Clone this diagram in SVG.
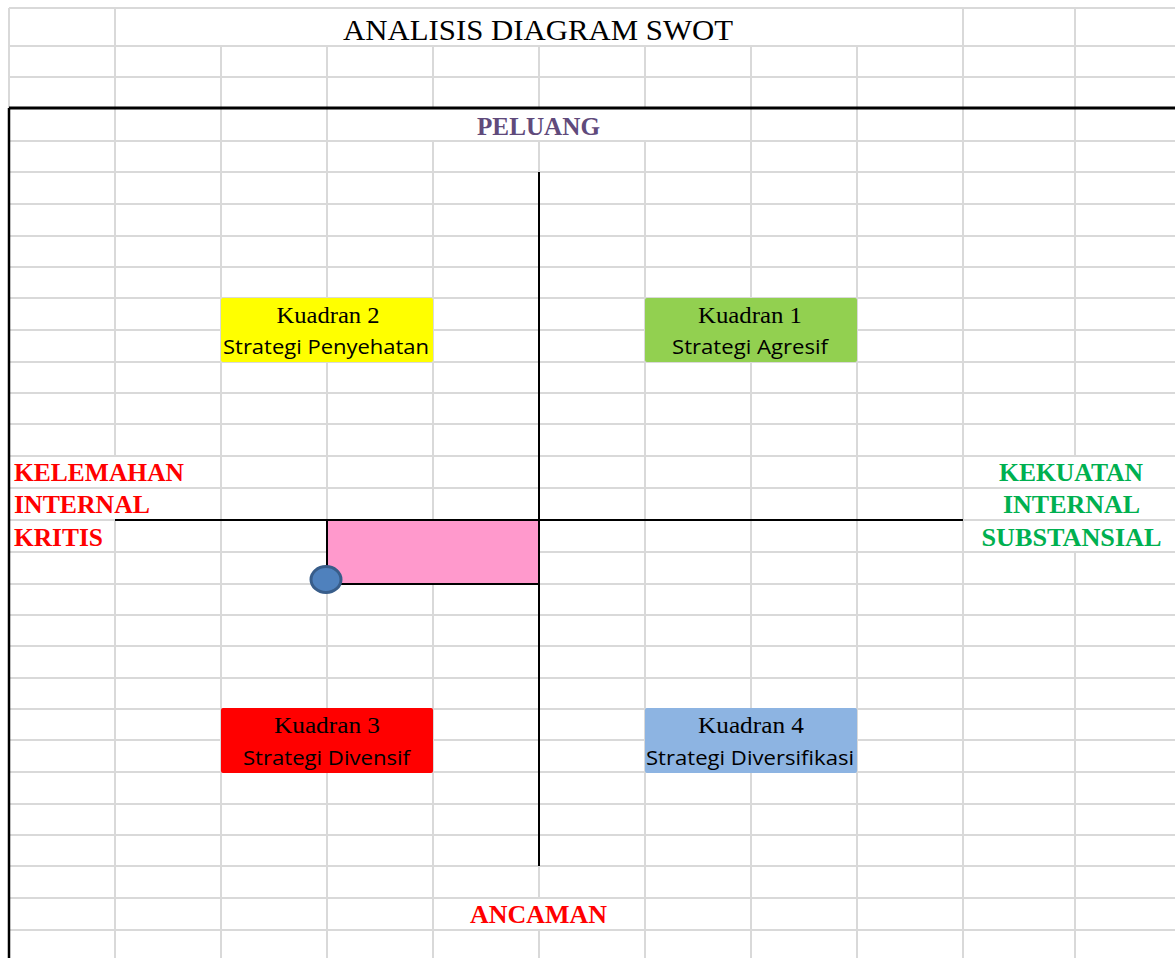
<svg xmlns="http://www.w3.org/2000/svg" width="1175" height="958" viewBox="0 0 1175 958">
<style>
.g{stroke:#D9D9D9;stroke-width:2;fill:none}
.k{stroke:#000;fill:none}
.ser{font-family:"Liberation Serif","Times New Roman",serif}
.b{font-weight:bold;font-size:25px}
.kd{font-family:"Liberation Serif","Times New Roman",serif;font-size:23.5px;fill:#000;text-anchor:middle}
.st{font-family:"Open Sans","Liberation Sans",sans-serif;font-size:20px;fill:#000;text-anchor:middle}
</style>
<rect width="1175" height="958" fill="#fff"/>
<g id="grid">
<path class="g" d="M9 8H1175M9 46H1175M9 77H1175M9 141H1175M9 172H1175M9 204H1175M9 236H1175M9 267H1175M9 298H1175M9 330H1175M9 362H1175M9 393H1175M9 424H1175M9 456H1175M9 488H1175M9 520H1175M9 552H1175M9 584H1175M9 615H1175M9 646H1175M9 678H1175M9 709H1175M9 740H1175M9 772H1175M9 804H1175M9 835H1175M9 866H1175M9 898H1175M9 930H1175"/>
<path class="g" d="M9 8V108M115 8V456M115 520V958M963 8V958M1075 8V456M1075 552V958M221 46V958M327 46V958M433 46V108M433 141V958M539 46V108M539 141V898M539 930V958M645 46V108M645 141V958M751 46V958M857 46V958"/>
</g>
<g id="frame">
<path class="k" stroke-width="3" d="M9 108H1175"/>
<path class="k" stroke-width="2.5" d="M9 108V958"/>
</g>
<text id="title" class="ser" x="538" y="40" font-size="30" text-anchor="middle" textLength="390" lengthAdjust="spacingAndGlyphs">ANALISIS DIAGRAM SWOT</text>
<g id="axes">
<path class="k" stroke-width="2" d="M115 520H963M539 172V866"/>
</g>
<g id="labels">
<text id="peluang" class="ser b" x="538.5" y="135" fill="#604A7B" text-anchor="middle" textLength="123" lengthAdjust="spacingAndGlyphs">PELUANG</text>
<text id="ancaman" class="ser b" x="538.5" y="923" fill="#FF0000" text-anchor="middle" textLength="137" lengthAdjust="spacingAndGlyphs">ANCAMAN</text>
<g id="kelemahan" class="ser b" fill="#FF0000">
<text x="14" y="481" textLength="170" lengthAdjust="spacingAndGlyphs">KELEMAHAN</text>
<text x="14" y="513" textLength="136" lengthAdjust="spacingAndGlyphs">INTERNAL</text>
<text x="14" y="546" textLength="89" lengthAdjust="spacingAndGlyphs">KRITIS</text>
</g>
<g id="kekuatan" class="ser b" fill="#00B050" text-anchor="middle">
<text x="1071" y="481" textLength="144" lengthAdjust="spacingAndGlyphs">KEKUATAN</text>
<text x="1071.5" y="513" textLength="137" lengthAdjust="spacingAndGlyphs">INTERNAL</text>
<text x="1071.5" y="546" textLength="180" lengthAdjust="spacingAndGlyphs">SUBSTANSIAL</text>
</g>
</g>
<g id="kuadran2">
<rect x="221" y="298" width="212" height="64" rx="2" fill="#FFFF00"/>
<text class="kd" x="328" y="322.5" textLength="103" lengthAdjust="spacingAndGlyphs">Kuadran 2</text>
<text class="st" x="326" y="354" textLength="206" lengthAdjust="spacingAndGlyphs">Strategi Penyehatan</text>
</g>
<g id="kuadran1">
<rect x="645" y="298" width="212" height="64" rx="2" fill="#92D050"/>
<text class="kd" x="750" y="322.5" textLength="104" lengthAdjust="spacingAndGlyphs">Kuadran 1</text>
<text class="st" x="750" y="354" textLength="156" lengthAdjust="spacingAndGlyphs">Strategi Agresif</text>
</g>
<g id="kuadran3">
<rect x="221" y="708" width="212" height="65" rx="2" fill="#FF0000"/>
<text class="kd" x="327" y="732.5" textLength="106" lengthAdjust="spacingAndGlyphs">Kuadran 3</text>
<text class="st" x="326.5" y="765" textLength="167" lengthAdjust="spacingAndGlyphs">Strategi Divensif</text>
</g>
<g id="kuadran4">
<rect x="645" y="708" width="212" height="65" rx="2" fill="#8DB4E2"/>
<text class="kd" x="751" y="732.5" textLength="106" lengthAdjust="spacingAndGlyphs">Kuadran 4</text>
<text class="st" x="750" y="765" textLength="208" lengthAdjust="spacingAndGlyphs">Strategi Diversifikasi</text>
</g>
<g id="position">
<rect x="327" y="520" width="212" height="64" fill="#FF99CC" stroke="#000" stroke-width="2"/>
<ellipse cx="326" cy="579.5" rx="15" ry="13" fill="#4F81BD" stroke="#385D8A" stroke-width="3"/>
</g>
</svg>
